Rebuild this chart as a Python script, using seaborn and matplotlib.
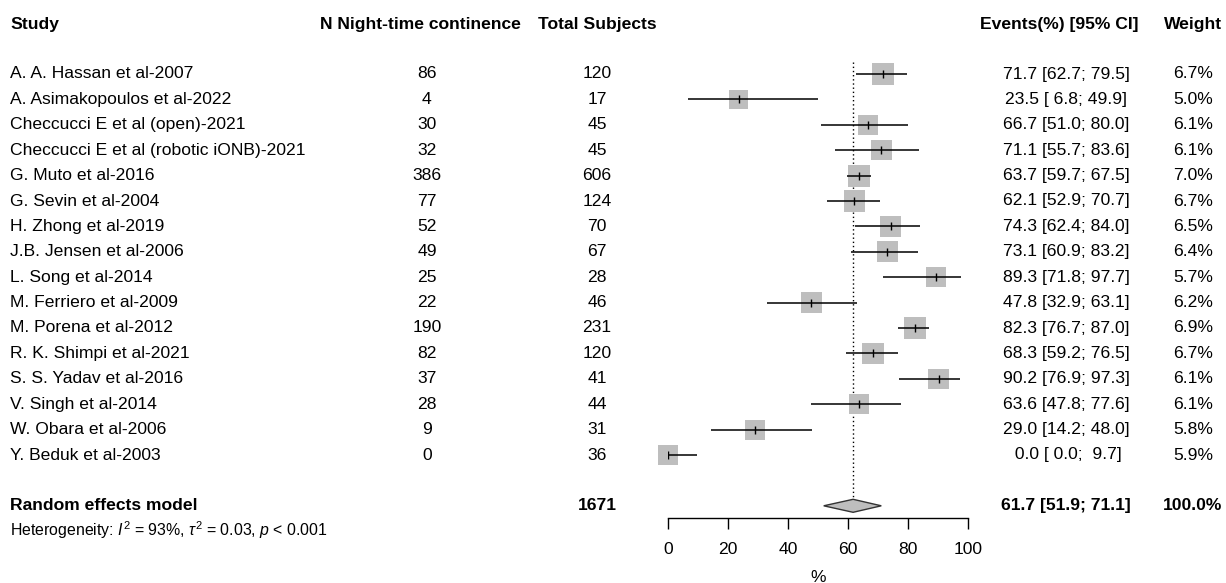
import numpy as np
import pandas as pd
import matplotlib
matplotlib.use("Agg")
import matplotlib.pyplot as plt
import seaborn as sns

# ---- data -------------------------------------------------------------
studies = [
    "A. A. Hassan et al-2007",
    "A. Asimakopoulos et al-2022",
    "Checcucci E et al (open)-2021",
    "Checcucci E et al (robotic iONB)-2021",
    "G. Muto et al-2016",
    "G. Sevin et al-2004",
    "H. Zhong et al-2019",
    "J.B. Jensen et al-2006",
    "L. Song et al-2014",
    "M. Ferriero et al-2009",
    "M. Porena et al-2012",
    "R. K. Shimpi et al-2021",
    "S. S. Yadav et al-2016",
    "V. Singh et al-2014",
    "W. Obara et al-2006",
    "Y. Beduk et al-2003",
]
events = [86, 4, 30, 32, 386, 77, 52, 49, 25, 22, 190, 82, 37, 28, 9, 0]
totals = [120, 17, 45, 45, 606, 124, 70, 67, 28, 46, 231, 120, 41, 44, 31, 36]
est = [71.7, 23.5, 66.7, 71.1, 63.7, 62.1, 74.3, 73.1, 89.3, 47.8, 82.3, 68.3, 90.2, 63.6, 29.0, 0.0]
ci_lo = [62.7, 6.8, 51.0, 55.7, 59.7, 52.9, 62.4, 60.9, 71.8, 32.9, 76.7, 59.2, 76.9, 47.8, 14.2, 0.0]
ci_hi = [79.5, 49.9, 80.0, 83.6, 67.5, 70.7, 84.0, 83.2, 97.7, 63.1, 87.0, 76.5, 97.3, 77.6, 48.0, 9.7]
weights = [6.7, 5.0, 6.1, 6.1, 7.0, 6.7, 6.5, 6.4, 5.7, 6.2, 6.9, 6.7, 6.1, 6.1, 5.8, 5.9]

pooled_est, pooled_lo, pooled_hi = 61.7, 51.9, 71.1
pooled_total = 1671
axis_ticks = [0, 20, 40, 60, 80, 100]

df = pd.DataFrame({
    "study": studies, "events": events, "total": totals,
    "est": est, "lo": ci_lo, "hi": ci_hi, "weight": weights,
})
df["row"] = np.arange(len(df))

# ---- figure setup -----------------------------------------------------
sns.set_theme(style="white")
plt.rcParams["font.family"] = ["Liberation Sans", "DejaVu Sans"]
plt.rcParams["text.color"] = "black"
plt.rcParams["xtick.color"] = "black"
plt.rcParams["mathtext.fontset"] = "custom"
plt.rcParams["mathtext.rm"] = "Liberation Sans"
plt.rcParams["mathtext.it"] = "Liberation Sans:italic"
plt.rcParams["mathtext.bf"] = "Liberation Sans:bold"

W, H = 1226, 583
fig = plt.figure(figsize=(W / 100, H / 100), dpi=100)

# text layer in pixel-like layout coordinates
ax_t = fig.add_axes([0, 0, 1, 1])
ax_t.set_xlim(0, W)
ax_t.set_ylim(H, 0)
ax_t.axis("off")

ROW0, STEP = 74.0, 25.4          # layout of the study rows (pixels)
AX_LEFT, AX_RIGHT = 668, 968     # forest panel horizontal extent
AX_TOP, AX_BOTTOM = 50, 518      # forest panel vertical extent


def row_y(i):
    return ROW0 + STEP * i


FS = 12.6
X_STUDY, X_N, X_TOT, X_CI, X_W = 10, 427, 597, 1066, 1193
Y_HEAD = 24

# headers
ax_t.text(X_STUDY, Y_HEAD, "Study", ha="left", va="center", fontsize=FS, fontweight="bold")
ax_t.text(420, Y_HEAD, "N Night-time continence", ha="center", va="center", fontsize=FS, fontweight="bold")
ax_t.text(X_TOT, Y_HEAD, "Total Subjects", ha="center", va="center", fontsize=FS, fontweight="bold")
ax_t.text(1138, Y_HEAD, "Events(%) [95% CI]", ha="right", va="center", fontsize=FS, fontweight="bold")
ax_t.text(X_W, Y_HEAD, "Weight", ha="center", va="center", fontsize=FS, fontweight="bold")


def ci_label(e, lo, hi):
    return f"{e:4.1f} [{lo:4.1f}; {hi:4.1f}]"


for _, r in df.iterrows():
    y = row_y(r["row"])
    ax_t.text(X_STUDY, y, r["study"], ha="left", va="center", fontsize=FS)
    ax_t.text(X_N, y, f"{r['events']}", ha="center", va="center", fontsize=FS)
    ax_t.text(X_TOT, y, f"{r['total']}", ha="center", va="center", fontsize=FS)
    ax_t.text(X_CI, y, ci_label(r["est"], r["lo"], r["hi"]), ha="center", va="center", fontsize=FS)
    ax_t.text(X_W, y, f"{r['weight']:.1f}%", ha="center", va="center", fontsize=FS)

# pooled row
n = len(df)
y_pool = row_y(n + 1)
ax_t.text(X_STUDY, y_pool, "Random effects model", ha="left", va="center", fontsize=FS, fontweight="bold")
ax_t.text(X_TOT, y_pool, f"{pooled_total}", ha="center", va="center", fontsize=FS, fontweight="bold")
ax_t.text(X_CI, y_pool, ci_label(pooled_est, pooled_lo, pooled_hi), ha="center", va="center",
          fontsize=FS, fontweight="bold")
ax_t.text(X_W, y_pool, "100.0%", ha="center", va="center", fontsize=FS, fontweight="bold")
ax_t.text(X_STUDY, 530, r"Heterogeneity: $\mathit{I}^2$ = 93%, $\tau^2$ = 0.03, $\mathit{p}$ < 0.001",
          ha="left", va="center", fontsize=11.4)
ax_t.text((AX_LEFT + AX_RIGHT) / 2, 577, "%", ha="center", va="center", fontsize=FS)

# ---- forest panel -----------------------------------------------------
ax = fig.add_axes([AX_LEFT / W, (H - AX_BOTTOM) / H, (AX_RIGHT - AX_LEFT) / W, (AX_BOTTOM - AX_TOP) / H])
ax.patch.set_alpha(0)
ax.set_xlim(0, 100)
ax.set_ylim((AX_BOTTOM - ROW0) / STEP, (AX_TOP - ROW0) / STEP)

# reference line at the pooled estimate
ax.vlines(pooled_est, (62 - ROW0) / STEP, n + 1 - 0.22, colors="black",
          linestyles=(0, (1, 2)), linewidth=1.0, zorder=1)

# study squares, area proportional to weight
sns.scatterplot(data=df, x="est", y="row", size="weight", size_norm=(0, 10), sizes=(0, 357),
                marker="s", color="#BEBEBE", linewidth=0, legend=False, ax=ax, zorder=2,
                clip_on=False)

# confidence intervals and point markers
ax.hlines(df["row"], df["lo"], df["hi"], colors="black", linewidth=1.1, zorder=3)
ax.scatter(df["est"], df["row"], marker="|", s=30, color="black", linewidths=1.0, zorder=4)

# pooled diamond
dh = 6.5 / STEP
ax.fill([pooled_lo, pooled_est, pooled_hi, pooled_est],
        [n + 1, n + 1 - dh, n + 1, n + 1 + dh],
        facecolor="#BEBEBE", edgecolor="#333333", linewidth=1.0, zorder=3, clip_on=False)

# axis styling
for side in ["top", "left", "right"]:
    ax.spines[side].set_visible(False)
ax.spines["bottom"].set_color("black")
ax.spines["bottom"].set_linewidth(1.0)
ax.set_yticks([])
ax.set_xticks(axis_ticks)
ax.set_xticklabels([str(t) for t in axis_ticks], fontsize=FS)
ax.tick_params(axis="x", direction="out", length=7.6, width=1.0, color="black", pad=10, bottom=True)
ax.set_xlabel("")
ax.set_ylabel("")

fig.savefig("out.png", dpi=100)
